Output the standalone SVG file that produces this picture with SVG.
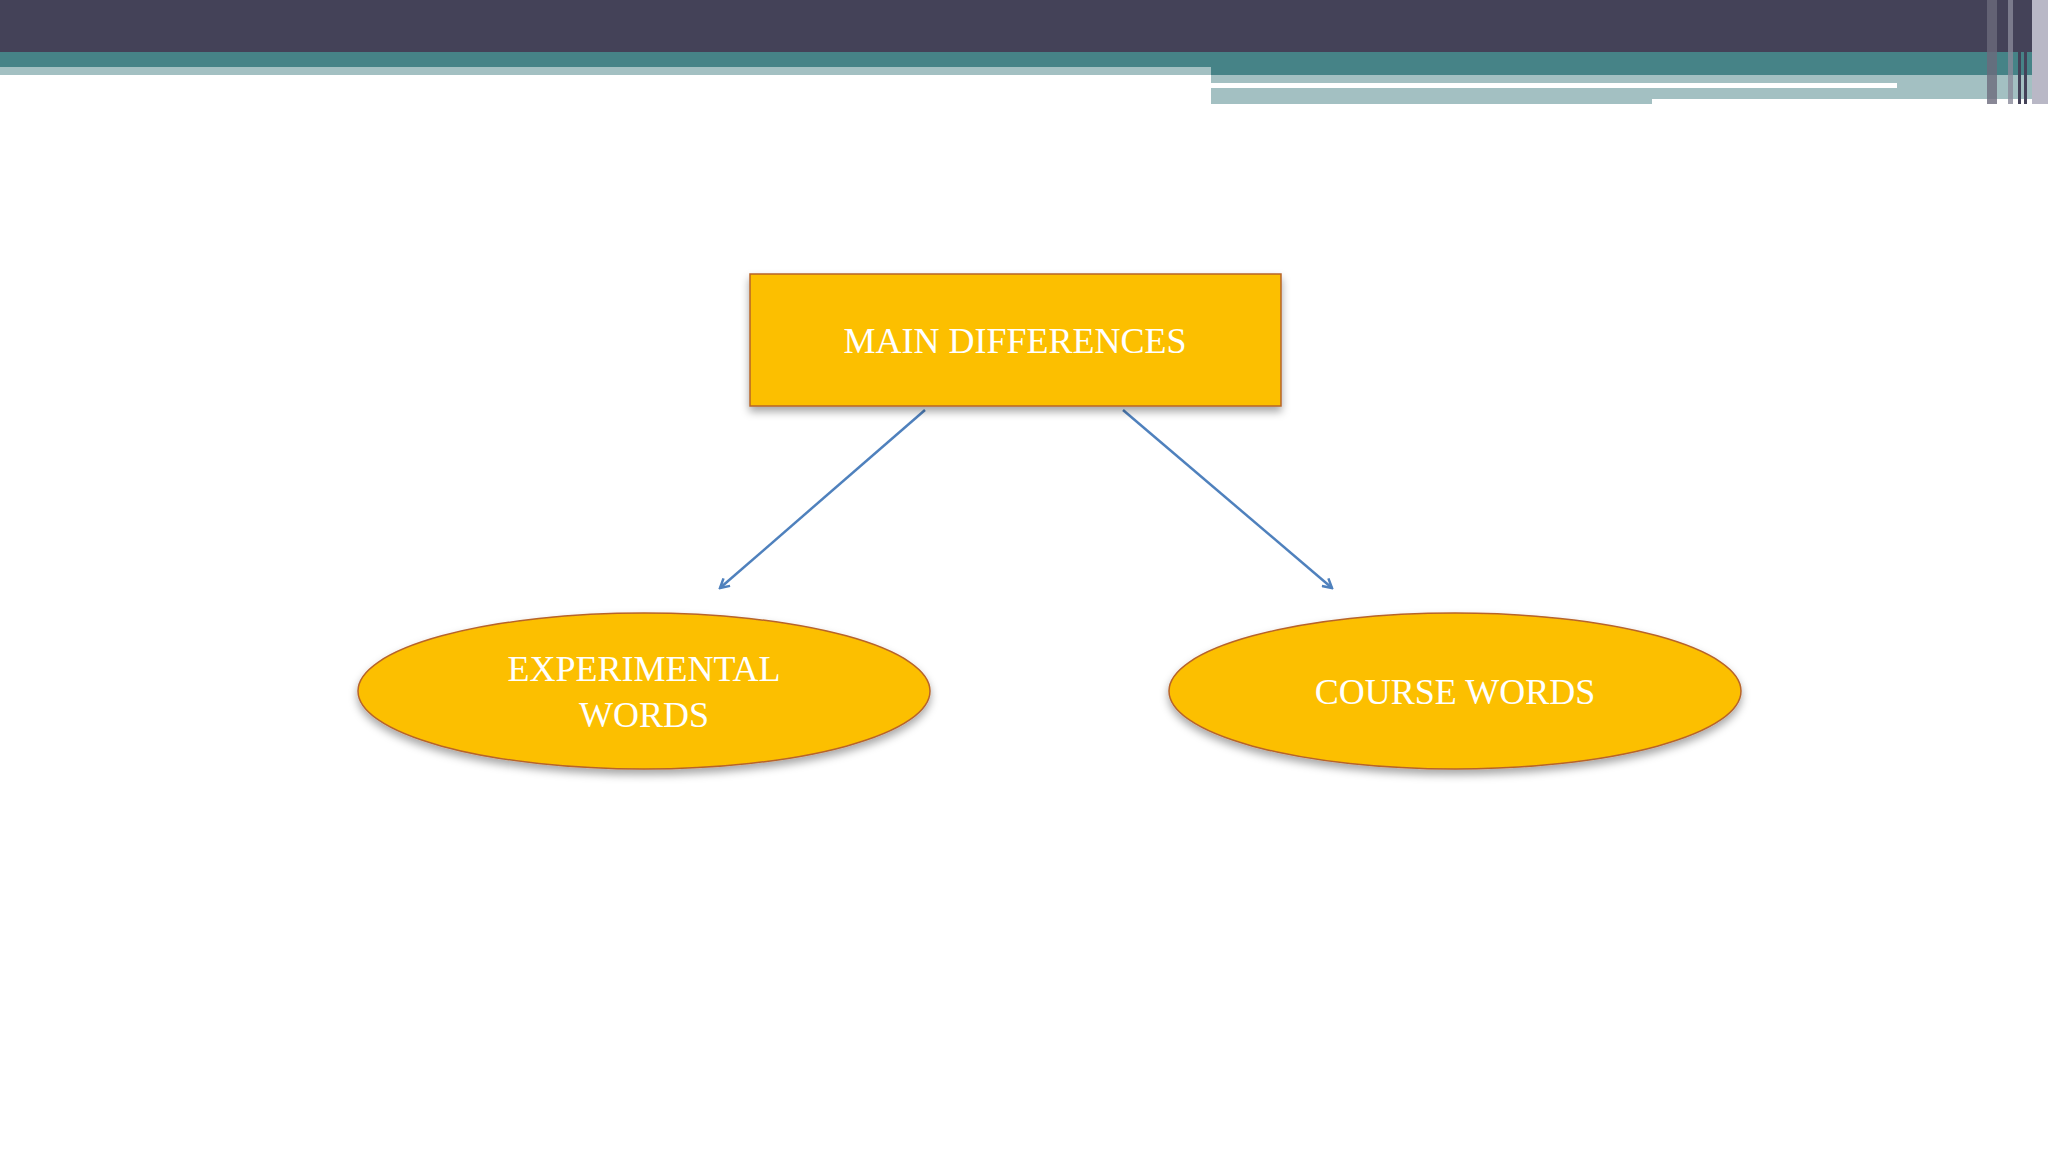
<svg xmlns="http://www.w3.org/2000/svg" width="2048" height="1152" viewBox="0 0 2048 1152">
<style>
.n{fill:#fcbf00;stroke:#b7642a;stroke-width:1.5}
.t{font-family:"Liberation Serif",serif;font-size:36px;fill:#fff;text-anchor:middle}
.c{stroke:#4f81bd;stroke-width:2.5;fill:none}
</style>
<defs>
<marker id="a" markerWidth="12" markerHeight="12" refX="10" refY="6" orient="auto" markerUnits="userSpaceOnUse"><path d="M1,1 L10,6 L1,11" fill="none" stroke="#4f81bd" stroke-width="2.5"/></marker>
<filter id="s" x="-10%" y="-10%" width="120%" height="130%"><feDropShadow dx="0" dy="5" stdDeviation="4" flood-color="#000" flood-opacity="0.35"/></filter>
</defs>
<rect width="2048" height="1152" fill="#fff"/>
<g id="header">
<rect x="0" y="0" width="2048" height="52" fill="#444258"/>
<rect x="0" y="52" width="2048" height="23" fill="#468387"/>
<rect x="0" y="67" width="1211" height="8" fill="#a3c0c2"/>
<rect x="1211" y="75" width="837" height="24" fill="#a3c0c2"/>
<rect x="1211" y="99" width="441" height="5" fill="#a3c0c2"/>
<rect x="1211" y="83" width="686" height="5" fill="#fff"/>
<rect x="1987" y="0" width="10" height="104" fill="#6b6a7c" opacity="0.8"/>
<rect x="2008" y="0" width="5" height="104" fill="#8a899a" opacity="0.8"/>
<rect x="2018" y="0" width="3" height="104" fill="#444258"/>
<rect x="2024" y="0" width="3" height="104" fill="#444258"/>
<rect x="2032" y="0" width="16" height="104" fill="#b9b8c6"/>
</g>
<g id="connectors">
<line class="c" x1="925" y1="410" x2="720" y2="588" marker-end="url(#a)"/>
<line class="c" x1="1123" y1="410" x2="1332" y2="588" marker-end="url(#a)"/>
</g>
<g id="main">
<rect class="n" x="750" y="274" width="531" height="132" filter="url(#s)"/>
<text class="t" x="1015" y="353">MAIN DIFFERENCES</text>
</g>
<g id="experimental">
<ellipse class="n" cx="644" cy="691" rx="286" ry="78" filter="url(#s)"/>
<text class="t" x="644" y="681">EXPERIMENTAL</text>
<text class="t" x="644" y="727">WORDS</text>
</g>
<g id="course">
<ellipse class="n" cx="1455" cy="691" rx="286" ry="78" filter="url(#s)"/>
<text class="t" x="1455" y="704">COURSE WORDS</text>
</g>
</svg>
